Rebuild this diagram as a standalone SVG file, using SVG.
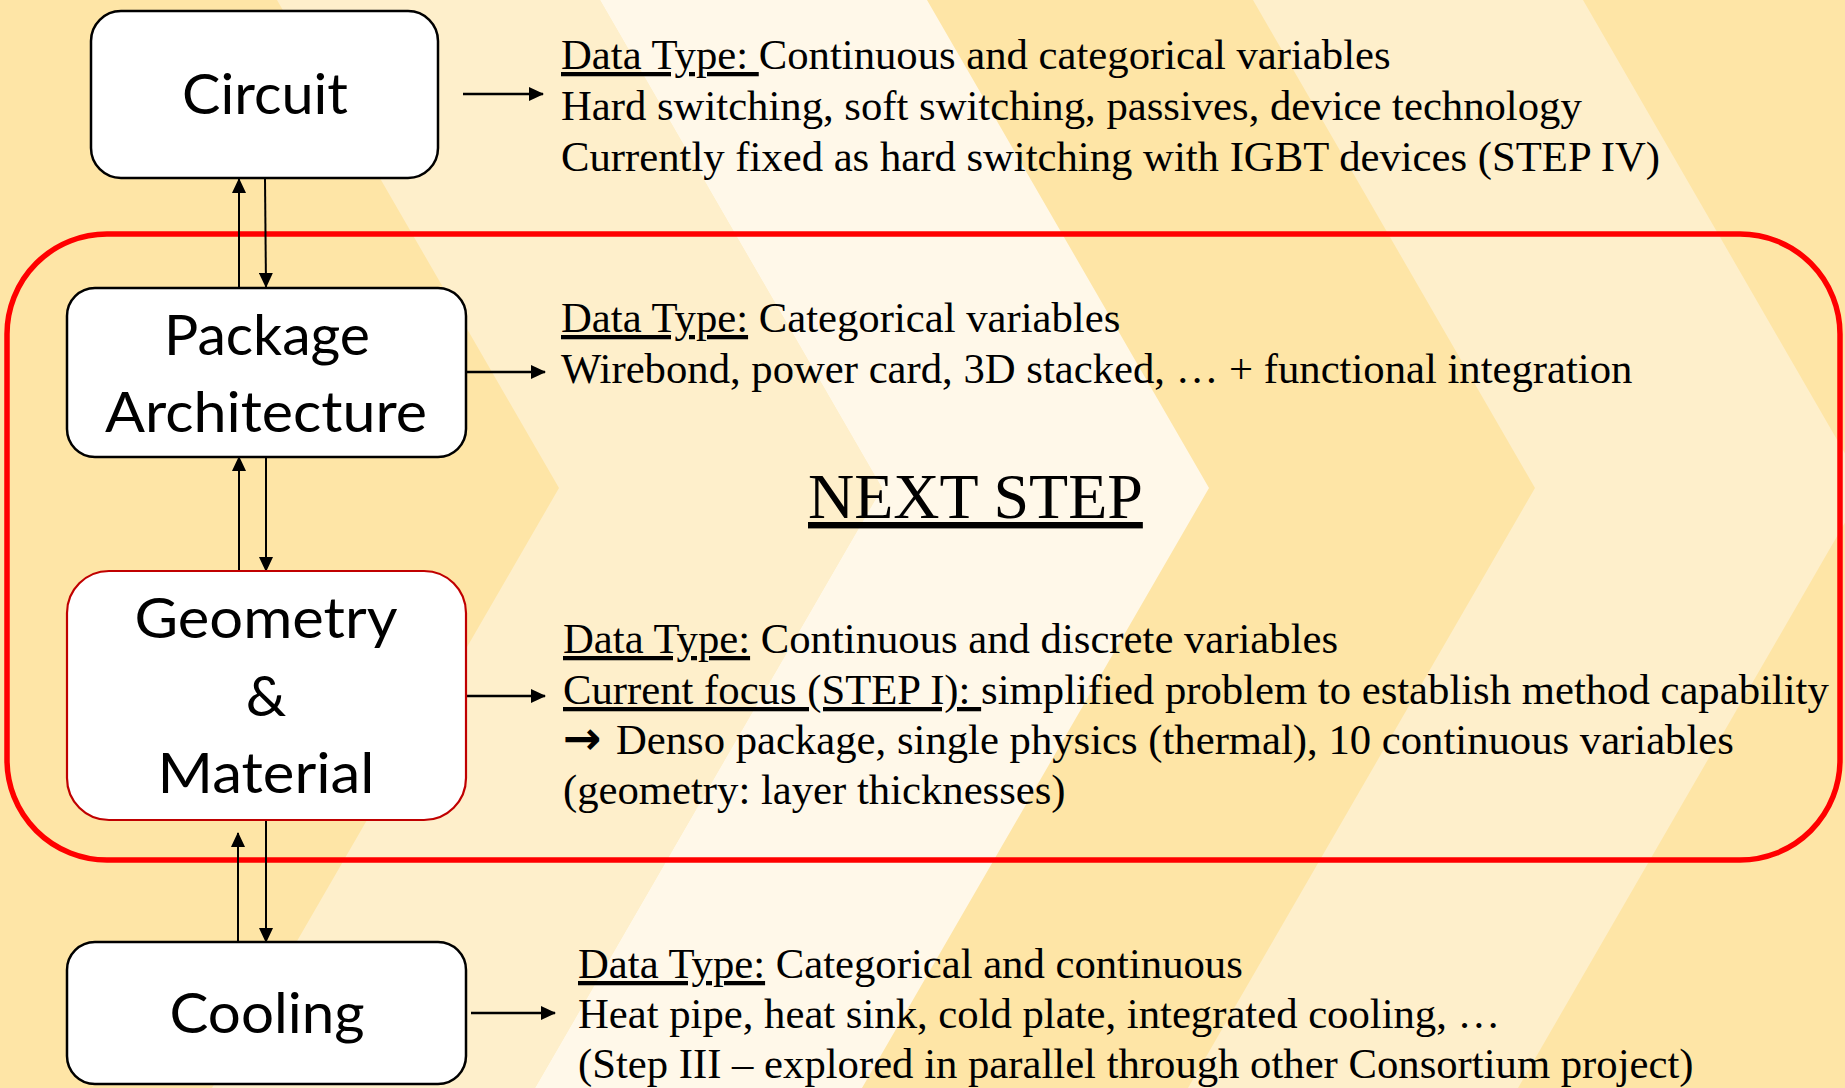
<svg xmlns="http://www.w3.org/2000/svg" width="1845" height="1088" viewBox="0 0 1845 1088">
<defs>
<style>
.bg-dark{fill:#FEE5A6}
.bg-mid{fill:#FEEFCB}
.bg-light{fill:#FFF8E9}
.box{fill:#FFFFFF;stroke:#000000;stroke-width:2.5}
.box-red{fill:#FFFFFF;stroke:#C00000;stroke-width:2.2}
.lbl{font-family:Lato,'Open Sans','Noto Sans',sans-serif;font-size:57px;fill:#000000;text-anchor:middle}
.txt{font-family:'Liberation Serif','Times New Roman',serif;font-size:42.7px;fill:#000000}
.u{text-decoration:underline}
.conn{stroke:#000000;stroke-width:2;fill:none;marker-end:url(#ah)}
.conn-h{stroke:#000000;stroke-width:2.5;fill:none;marker-end:url(#ah)}
.focus{fill:none;stroke:#FF0000;stroke-width:5.5}
</style>
<marker id="ah" markerUnits="userSpaceOnUse" markerWidth="15" markerHeight="14" viewBox="0 0 15 14" refX="14" refY="7" orient="auto">
<path d="M0,0 L15,7 L0,14 z" fill="#000000"/>
</marker>
</defs>

<g id="background">
<rect x="0" y="0" width="1845" height="1088" class="bg-dark"/>
<polygon class="bg-mid" points="277,0 559,488 212,1088 535,1088 882,488 600,0"/>
<polygon class="bg-light" points="600,0 882,488 535,1088 862,1088 1209,488 927,0"/>
<polygon class="bg-mid" points="1253,0 1535,488 1188,1088 1518,1088 1865,488 1583,0"/>
</g>

<g id="next-step-frame">
<rect class="focus" x="7" y="234" width="1833" height="626" rx="100" ry="100"/>
<text class="txt" x="808" y="518" style="font-size:64px" text-decoration="underline">NEXT STEP</text>
</g>

<g id="connectors">
<line class="conn" x1="239" y1="287" x2="239" y2="179"/>
<line class="conn" x1="265" y1="179" x2="266" y2="287"/>
<line class="conn" x1="239" y1="571" x2="239" y2="457"/>
<line class="conn" x1="266" y1="457" x2="266" y2="571"/>
<line class="conn" x1="238" y1="942" x2="238" y2="833"/>
<line class="conn" x1="266" y1="820" x2="266" y2="942"/>
<line class="conn-h" x1="463" y1="94" x2="543" y2="94"/>
<line class="conn-h" x1="466" y1="372" x2="545" y2="372"/>
<line class="conn-h" x1="466" y1="696" x2="545" y2="696"/>
<line class="conn-h" x1="471" y1="1013" x2="555" y2="1013"/>
</g>

<g id="circuit">
<rect class="box" x="91" y="11" width="347" height="167" rx="30" ry="30"/>
<text class="lbl" x="265" y="114" textLength="166" lengthAdjust="spacingAndGlyphs">Circuit</text>
<text class="txt" x="561" y="69"><tspan class="u">Data Type: </tspan>Continuous and categorical variables</text>
<text class="txt" x="561" y="120">Hard switching, soft switching, passives, device technology</text>
<text class="txt" x="561" y="171">Currently fixed as hard switching with IGBT devices (STEP IV)</text>
</g>

<g id="package-architecture">
<rect class="box" x="67" y="288" width="399" height="169" rx="28" ry="28"/>
<text class="lbl" x="267" y="355" textLength="206" lengthAdjust="spacingAndGlyphs">Package</text>
<text class="lbl" x="266" y="432" textLength="322" lengthAdjust="spacingAndGlyphs">Architecture</text>
<text class="txt" x="561" y="332"><tspan class="u">Data Type:</tspan> Categorical variables</text>
<text class="txt" x="561" y="383">Wirebond, power card, 3D stacked, … + functional integration</text>
</g>

<g id="geometry-material">
<rect class="box-red" x="67" y="571" width="399" height="249" rx="42" ry="42"/>
<text class="lbl" x="266" y="638" textLength="263" lengthAdjust="spacingAndGlyphs">Geometry</text>
<text class="lbl" x="266" y="716">&amp;</text>
<text class="lbl" x="266" y="793" textLength="217" lengthAdjust="spacingAndGlyphs">Material</text>
<text class="txt" x="563" y="653"><tspan class="u">Data Type:</tspan> Continuous and discrete variables</text>
<text class="txt" x="563" y="704"><tspan class="u">Current focus (STEP I): </tspan>simplified problem to establish method capability</text>
<text class="txt" x="563" y="754"><tspan style="font-family:'DejaVu Sans',sans-serif;font-weight:bold;font-size:46px">→</tspan><tspan x="616">Denso package, single physics (thermal), 10 continuous variables</tspan></text>
<text class="txt" x="563" y="804">(geometry: layer thicknesses)</text>
</g>

<g id="cooling">
<rect class="box" x="67" y="942" width="399" height="142" rx="28" ry="28"/>
<text class="lbl" x="267" y="1033" textLength="195" lengthAdjust="spacingAndGlyphs">Cooling</text>
<text class="txt" x="578" y="978"><tspan class="u">Data Type:</tspan> Categorical and continuous</text>
<text class="txt" x="578" y="1028">Heat pipe, heat sink, cold plate, integrated cooling, …</text>
<text class="txt" x="578" y="1078">(Step III – explored in parallel through other Consortium project)</text>
</g>
</svg>
